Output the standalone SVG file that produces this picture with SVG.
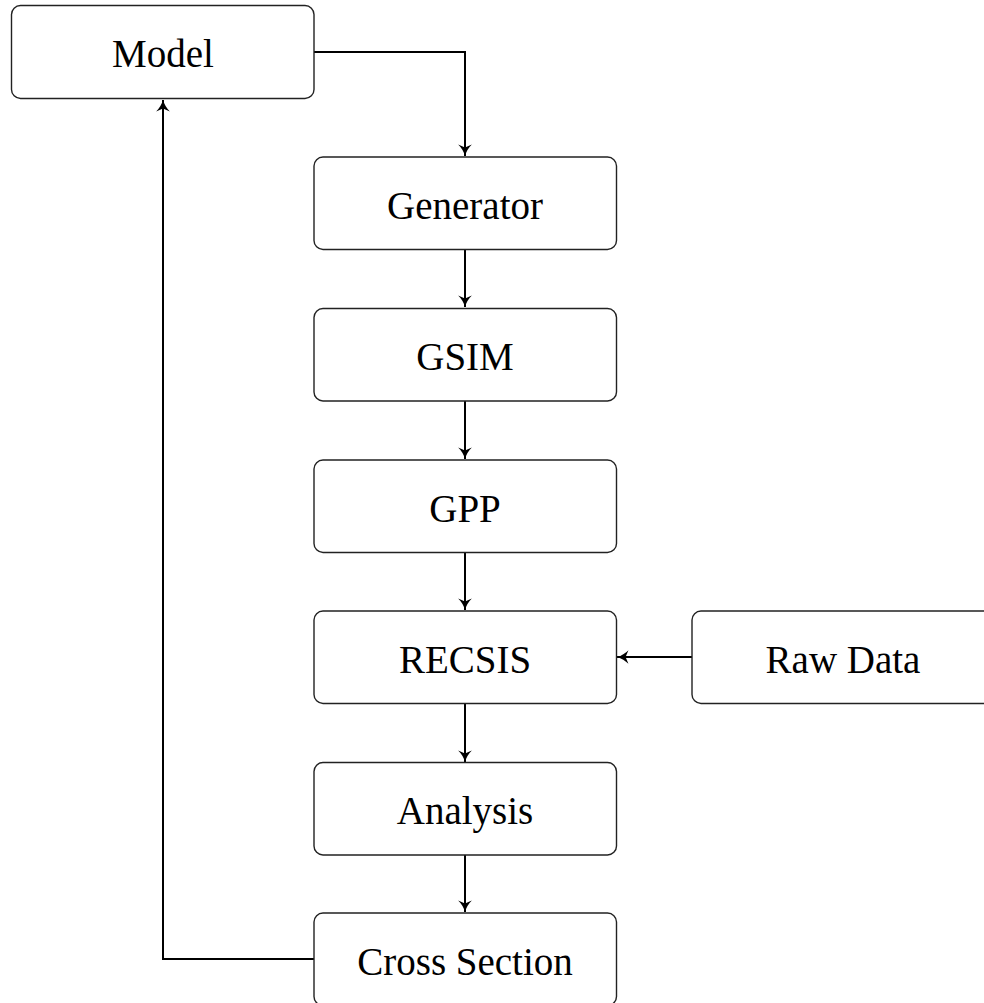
<svg xmlns="http://www.w3.org/2000/svg" width="984" height="1003" viewBox="0 0 984 1003">
<style>
.box{fill:#fff;stroke:#222;stroke-width:1.4}
.lbl{font-family:"Liberation Serif","DejaVu Serif",serif;font-size:39px;fill:#000;text-anchor:middle}
.con{fill:none;stroke:#000;stroke-width:2}
</style>
<defs>
<marker id="arr" markerUnits="userSpaceOnUse" markerWidth="16" markerHeight="16" refX="0" refY="0" viewBox="-12 -7 14 14" orient="auto">
<path d="M0,0 Q-6,1.8 -10,6 L-7.5,0 L-10,-6 Q-6,-1.8 0,0 Z" fill="#000"/>
</marker>
</defs>
<g id="connectors">
<path class="con" d="M314,52 H465 V156" marker-end="url(#arr)"/>
<path class="con" d="M465,250 V307" marker-end="url(#arr)"/>
<path class="con" d="M465,401 V459" marker-end="url(#arr)"/>
<path class="con" d="M465,552 V610" marker-end="url(#arr)"/>
<path class="con" d="M465,704 V762" marker-end="url(#arr)"/>
<path class="con" d="M465,855 V912" marker-end="url(#arr)"/>
<path class="con" d="M692,657 H617" marker-end="url(#arr)"/>
<path class="con" d="M314,959 H163 V100" marker-end="url(#arr)"/>
</g>
<g id="model"><rect class="box" x="11.5" y="5.5" width="302.5" height="93" rx="9"/><text class="lbl" x="163" y="67">Model</text></g>
<g id="generator"><rect class="box" x="314" y="157" width="302.5" height="92.5" rx="9"/><text class="lbl" x="465" y="219">Generator</text></g>
<g id="gsim"><rect class="box" x="314" y="308.5" width="302.5" height="92.5" rx="9"/><text class="lbl" x="465" y="370">GSIM</text></g>
<g id="gpp"><rect class="box" x="314" y="460" width="302.5" height="92.5" rx="9"/><text class="lbl" x="465" y="522">GPP</text></g>
<g id="recsis"><rect class="box" x="314" y="611" width="302.5" height="92.5" rx="9"/><text class="lbl" x="465" y="673">RECSIS</text></g>
<g id="rawdata"><rect class="box" x="692" y="611" width="302.5" height="92.5" rx="9"/><text class="lbl" x="843" y="673">Raw Data</text></g>
<g id="analysis"><rect class="box" x="314" y="762.5" width="302.5" height="92.5" rx="9"/><text class="lbl" x="465" y="824">Analysis</text></g>
<g id="crosssection"><rect class="box" x="314" y="913" width="302.5" height="92.5" rx="9"/><text class="lbl" x="465" y="975">Cross Section</text></g>
</svg>
